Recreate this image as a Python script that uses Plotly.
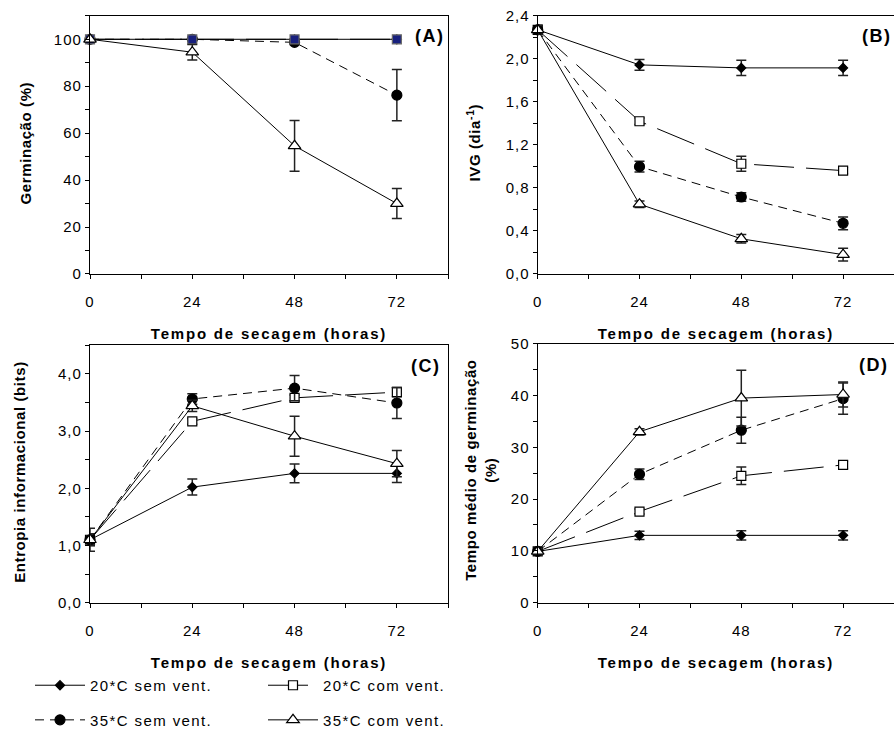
import plotly.graph_objects as go

# Drying time (hours)
hours = [0, 24, 48, 72]

# Legend labels
name_20_sem = "20*C sem vent."
name_20_com = "20*C com vent."
name_35_sem = "35*C sem vent."
name_35_com = "35*C com vent."

# (A) Germinação (%)
germ_20_sem = [100, 100, 100, 100]
germ_20_sem_err = [0, 0, 0, 0]
germ_20_com = [100, 100, 100, 100]
germ_20_com_err = [0, 0, 0, 0]
germ_35_sem = [100, 100, 98.7, 76.2]
germ_35_sem_err = [0, 0.5, 1.0, 10.9]
germ_35_com = [100, 94.5, 54.6, 30.0]
germ_35_com_err = [0, 3.3, 10.8, 6.4]

# (B) IVG (dia-1)
ivg_20_sem = [2.27, 1.944, 1.916, 1.916]
ivg_20_sem_err = [0.04, 0.05, 0.07, 0.07]
ivg_20_com = [2.27, 1.42, 1.025, 0.961]
ivg_20_com_err = [0.04, 0.03, 0.07, 0.03]
ivg_35_sem = [2.27, 0.998, 0.716, 0.471]
ivg_35_sem_err = [0.04, 0.05, 0.04, 0.06]
ivg_35_com = [2.27, 0.649, 0.327, 0.18]
ivg_35_com_err = [0.04, 0.03, 0.04, 0.06]

# (C) Entropia informacional (bits)
ent_20_sem = [1.1, 2.02, 2.26, 2.26]
ent_20_sem_err = [0.2, 0.14, 0.165, 0.16]
ent_20_com = [1.1, 3.17, 3.58, 3.68]
ent_20_com_err = [0.1, 0.05, 0.05, 0.08]
ent_35_sem = [1.1, 3.56, 3.75, 3.49]
ent_35_sem_err = [0.1, 0.09, 0.22, 0.27]
ent_35_com = [1.1, 3.44, 2.91, 2.43]
ent_35_com_err = [0.1, 0.1, 0.35, 0.23]

# (D) Tempo médio de germinação
tm_20_sem = [9.9, 13.0, 13.0, 13.0]
tm_20_sem_err = [0.5, 0.8, 0.9, 0.9]
tm_20_com = [9.9, 17.6, 24.5, 26.6]
tm_20_com_err = [0.5, 0.5, 1.7, 0.7]
tm_35_sem = [9.9, 24.8, 33.3, 39.4]
tm_35_sem_err = [0.5, 1.0, 2.5, 3.0]
tm_35_com = [9.9, 33.0, 39.5, 40.2]
tm_35_com_err = [0.5, 0.6, 5.4, 2.4]

# Labelled ticks (minor ticks fall halfway between them)
x_tickvals = [0, 24, 48, 72]
x_ticktext = ["0", "24", "48", "72"]
ya_tickvals = [0, 20, 40, 60, 80, 100]
ya_ticktext = ["0", "20", "40", "60", "80", "100"]
yb_tickvals = [0, 0.4, 0.8, 1.2, 1.6, 2.0, 2.4]
yb_ticktext = ["0,0", "0,4", "0,8", "1,2", "1,6", "2,0", "2,4"]
yc_tickvals = [0, 1.0, 2.0, 3.0, 4.0]
yc_ticktext = ["0,0", "1,0", "2,0", "3,0", "4,0"]
yd_tickvals = [0, 10, 20, 30, 40, 50]
yd_ticktext = ["0", "10", "20", "30", "40", "50"]

FONT = "Liberation Sans, Arial, sans-serif"


def spaced(text, px):
    return f'<span style="letter-spacing:{px}px">{text}</span>'


# Line/marker style per treatment
STYLE = {
    "20_sem": dict(symbol="diamond", size=7, fill="black", edge="black", dash="solid"),
    "20_com": dict(symbol="square", size=9, fill="white", edge="black", dash="40px,12px"),
    "35_sem": dict(symbol="circle", size=10, fill="black", edge="black", dash="9px,6px"),
    "35_com": dict(symbol="triangle-up", size=11, fill="white", edge="black", dash="solid"),
}
NAMES = {"20_sem": name_20_sem, "20_com": name_20_com,
         "35_sem": name_35_sem, "35_com": name_35_com}
# Legend row: 20 °C treatments on the first row, 35 °C on the second
LEGEND_ROW = {"20_sem": "legend", "20_com": "legend",
              "35_sem": "legend2", "35_com": "legend2"}

panels = [
    dict(ax="", series={"20_sem": (germ_20_sem, germ_20_sem_err),
                        "20_com": (germ_20_com, germ_20_com_err),
                        "35_sem": (germ_35_sem, germ_35_sem_err),
                        "35_com": (germ_35_com, germ_35_com_err)},
         order=["20_sem", "35_sem", "20_com", "35_com"]),
    dict(ax="2", series={"20_sem": (ivg_20_sem, ivg_20_sem_err),
                         "20_com": (ivg_20_com, ivg_20_com_err),
                         "35_sem": (ivg_35_sem, ivg_35_sem_err),
                         "35_com": (ivg_35_com, ivg_35_com_err)},
         order=["20_sem", "20_com", "35_sem", "35_com"]),
    dict(ax="3", series={"20_sem": (ent_20_sem, ent_20_sem_err),
                         "20_com": (ent_20_com, ent_20_com_err),
                         "35_sem": (ent_35_sem, ent_35_sem_err),
                         "35_com": (ent_35_com, ent_35_com_err)},
         order=["20_com", "20_sem", "35_sem", "35_com"]),
    dict(ax="4", series={"20_sem": (tm_20_sem, tm_20_sem_err),
                         "20_com": (tm_20_com, tm_20_com_err),
                         "35_sem": (tm_35_sem, tm_35_sem_err),
                         "35_com": (tm_35_com, tm_35_com_err)},
         order=["20_com", "20_sem", "35_sem", "35_com"]),
]

fig = go.Figure()

for p_idx, panel in enumerate(panels):
    for key in panel["order"]:
        vals, errs = panel["series"][key]
        st = STYLE[key]
        fill, edge = st["fill"], st["edge"]
        if p_idx == 0 and key == "20_com":
            fill, edge = "#18207e", "#6a6a6a"
        show = p_idx == 1
        fig.add_trace(go.Scatter(
            x=hours, y=vals,
            mode="lines+markers",
            name=spaced(NAMES[key], 1.4),
            legend=LEGEND_ROW[key],
            showlegend=show,
            line=dict(color="black", width=1, dash=st["dash"]),
            marker=dict(symbol=st["symbol"], size=st["size"], color=fill,
                        line=dict(color=edge, width=1.2)),
            error_y=dict(type="data", array=errs, visible=True,
                         color="#222222", thickness=1.5, width=5),
            xaxis="x" + panel["ax"], yaxis="y" + panel["ax"],
            cliponaxis=False,
        ))

tickfont = dict(family=FONT, size=15, color="black")
title_font = dict(family=FONT, size=15, color="black", weight="bold")


def minor_ticks(step):
    return dict(tickmode="linear", tick0=0, dtick=step, ticks="outside",
                ticklen=4, tickwidth=1, tickcolor="black", showgrid=False)


def xaxis(domain, anchor):
    return dict(domain=domain, anchor=anchor, range=[0, 84],
                tickmode="array", tickvals=x_tickvals,
                ticktext=[spaced(t, 1) for t in x_ticktext],
                ticks="outside", ticklen=4, tickwidth=1, tickcolor="black",
                minor=minor_ticks(12),
                ticklabelstandoff=10,
                showline=True, linecolor="black", linewidth=1.3, mirror=True,
                showgrid=False, zeroline=False, tickfont=tickfont,
                title=dict(text=spaced("Tempo de secagem (horas)", 1.8),
                           font=title_font, standoff=19),
                fixedrange=True, automargin=False)


def yaxis(domain, anchor, rng, vals, texts, minor_step):
    return dict(domain=domain, anchor=anchor, range=rng,
                tickmode="array", tickvals=vals,
                ticktext=[spaced(t, 1) for t in texts],
                ticks="outside", ticklen=4, tickwidth=1, tickcolor="black",
                minor=minor_ticks(minor_step),
                showline=True, linecolor="black", linewidth=1.3, mirror=True,
                showgrid=False, zeroline=False, tickfont=tickfont,
                fixedrange=True, automargin=False)


W, H = 894, 737
left_dom = [90 / W, 448 / W]
right_dom = [537.7 / W, 1.0]
top_dom = [1 - 277 / H, 1 - 16 / H]
bot_dom_c = [1 - 609.3 / H, 1 - 349 / H]
bot_dom_d = [1 - 609.3 / H, 1 - 347.5 / H]

legend_common = dict(orientation="h", xanchor="left", yanchor="middle",
                     bgcolor="rgba(0,0,0,0)", borderwidth=0,
                     font=dict(family=FONT, size=15, color="black"),
                     itemwidth=50, entrywidth=168, entrywidthmode="pixels",
                     itemclick=False, itemdoubleclick=False)

fig.update_layout(
    width=W, height=H,
    margin=dict(l=0, r=0, t=0, b=0),
    paper_bgcolor="white", plot_bgcolor="white",
    font=dict(family=FONT, size=15, color="black"),
    xaxis=xaxis(left_dom, "y"),
    yaxis=yaxis(top_dom, "x", [0, 110], ya_tickvals, ya_ticktext, 10),
    xaxis2=xaxis(right_dom, "y2"),
    yaxis2=yaxis(top_dom, "x2", [0, 2.4], yb_tickvals, yb_ticktext, 0.2),
    xaxis3=xaxis(left_dom, "y3"),
    yaxis3=yaxis(bot_dom_c, "x3", [0, 4.5], yc_tickvals, yc_ticktext, 0.5),
    xaxis4=xaxis(right_dom, "y4"),
    yaxis4=yaxis(bot_dom_d, "x4", [0, 50], yd_tickvals, yd_ticktext, 5),
    legend=dict(x=30 / W, y=1 - 693 / H, **legend_common),
    legend2=dict(x=30 / W, y=1 - 728 / H, **legend_common),
)

# Vertical axis titles
for text, x, y in [("Germinação (%)", 25, 145),
                   ("IVG (dia<sup>-1</sup>)", 473, 144),
                   ("Entropia informacional (bits)", 20, 477),
                   ("Tempo médio de germinação<br>(%)", 481, 476)]:
    fig.add_annotation(text=spaced(text, 0.6), xref="paper", yref="paper",
                       x=x / W, y=1 - y / H, showarrow=False, textangle=-90,
                       xanchor="center", yanchor="middle",
                       font=title_font)

# Panel letters
for ax, letter, x, y in [("", "(A)", 0.95, 0.92), ("2", "(B)", 0.952, 0.923),
                         ("3", "(C)", 0.939, 0.919), ("4", "(D)", 0.944, 0.917)]:
    fig.add_annotation(text=spaced(letter, 1.5), xref=f"x{ax} domain",
                       yref=f"y{ax} domain", x=x, y=y, showarrow=False,
                       xanchor="center", yanchor="middle",
                       font=dict(family=FONT, size=18, color="black",
                                 weight="bold"))

fig.write_html("out.html")
